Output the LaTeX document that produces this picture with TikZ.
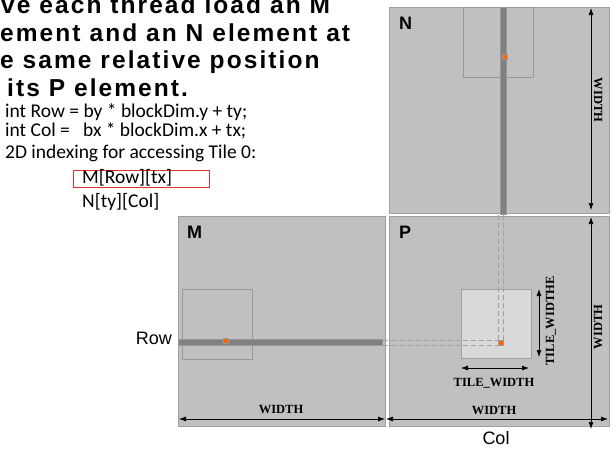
\documentclass[tikz,border=0pt]{standalone}
\usepackage{fontspec}
\setmainfont{Liberation Serif}
\newfontfamily\arialfont{Liberation Sans}
\newfontfamily\titlefont{Liberation Sans}[LetterSpace=8.5]
\newfontfamily\calfont{Carlito}
\usetikzlibrary{arrows.meta}
\definecolor{matfill}{HTML}{C0C0C0}
\definecolor{matline}{HTML}{A0A0A0}
\definecolor{stripfill}{HTML}{808080}
\definecolor{tileline}{HTML}{999999}
\definecolor{tilefill}{HTML}{D9D9D9}
\definecolor{dotorange}{HTML}{FF6600}
\definecolor{boxred}{HTML}{E03030}
\tikzset{
  matbox/.style={draw=matline, fill=matfill, line width=1pt, inner sep=0, anchor=north west},
  stripbox/.style={draw=tileline, fill=stripfill, line width=0.6pt, inner sep=0, anchor=north west},
  tilebox/.style={draw=tileline, line width=1pt, inner sep=0, anchor=north west, minimum width=70pt, minimum height=70pt},
  dotbox/.style={draw=tileline, fill=dotorange, line width=0.6pt, inner sep=0, minimum size=5pt},
  dashline/.style={draw=matline, line width=0.8pt, dash pattern=on 5pt off 3pt},
  dimarrow/.style={draw=black, line width=0.7pt, {Latex[length=7pt,width=5pt]}-{Latex[length=7pt,width=5pt]}},
  dimlabel/.style={font=\bfseries\fontsize{12.5}{14}\selectfont, inner sep=0},
  title/.style={font=\titlefont\bfseries\fontsize{24.5}{28}\selectfont, inner sep=0, anchor=base west},
  code/.style={font=\calfont\fontsize{19.5}{22}\selectfont, inner sep=0, anchor=base west},
  matlabel/.style={font=\arialfont\bfseries\fontsize{18}{20}\selectfont, inner sep=0, anchor=base west},
  axislabel/.style={font=\arialfont\fontsize{18}{20}\selectfont, inner sep=0}
}
\begin{document}
\begin{tikzpicture}[x=1pt,y=-1pt]
\useasboundingbox (0,0) rectangle (616,450);
% title
\node[title] (t1) at (1,13.5) {ve each thread load an M};
\node[title] (t2) at (0,41.5) {ement and an N element at};
\node[title] (t3) at (0,68.5) {e same relative position};
\node[title] (t4) at (7,96) {its P element.};
% code
\node[code] (c1) at (5,117) {int Row = by * blockDim.y + ty;};
\node[code] (c2) at (5,136) {int Col = \ \ bx * blockDim.x + tx;};
\node[code] (c3) at (5,158) {2D indexing for accessing Tile 0:};
\node[draw=boxred, line width=1pt, inner sep=0, minimum width=136pt, minimum height=17pt, anchor=north west] (redbox) at (73,170) {};
\node[code] (c4) at (82,183) {M[Row][tx]};
\node[code] (c5) at (82,207) {N[ty][Col]};
% matrices
\node[matbox, minimum width=220pt, minimum height=206pt] (N) at (389,7) {};
\node[matbox, minimum width=220pt, minimum height=210pt] (P) at (389,216) {};
\node[matbox, minimum width=207pt, minimum height=210pt] (M) at (178,216) {};
% tiles
\node[tilebox] (Ntile) at (463,7) {};
\node[tilebox] (Mtile) at (182,289) {};
\node[tilebox, fill=tilefill, draw=matline, minimum width=70pt, minimum height=69pt] (Ptile) at (461,289) {};
% strips
\node[stripbox, minimum width=6pt, minimum height=207pt] (Nstrip) at (500,7) {};
\node[stripbox, minimum width=204pt, minimum height=6pt] (Mstrip) at (178,339) {};
% dots
\node[dotbox] (Ndot) at (504.5,57) {};
\node[dotbox] (Mdot) at (225.5,341) {};
\node[dotbox] (Pdot) at (501,343) {};
% dashed guides
\draw[dashline] (Mstrip.east |- Pdot.north west) -- (Pdot.north west);
\draw[dashline] (Mstrip.east |- Pdot.south west) -- (Pdot.south west);
\draw[dashline] (Nstrip.south -| Pdot.north west) -- (Pdot.north west);
\draw[dashline] (Nstrip.south -| Pdot.north east) -- (Pdot.north east);
% matrix labels
\node[matlabel] (Nlab) at (399,29) {N};
\node[matlabel] (Plab) at (399,238) {P};
\node[matlabel] (Mlab) at (187,238) {M};
\node[axislabel, anchor=base east] (Rowlab) at (172,344) {Row};
\node[axislabel, anchor=base] (Collab) at (496,444) {Col};
% dimension arrows
\coordinate (mw1) at (179,419); \coordinate (mw2) at (385,419);
\coordinate (pw1) at (386,419); \coordinate (pw2) at (608,419);
\coordinate (pv1) at (591,217); \coordinate (pv2) at (591,429);
\coordinate (nv1) at (591,8);   \coordinate (nv2) at (591,210);
\coordinate (tw1) at (461,368); \coordinate (tw2) at (529,368);
\coordinate (th1) at (539,289); \coordinate (th2) at (539,357);
\draw[dimarrow] (mw1) -- (mw2);
\draw[dimarrow] (pw1) -- (pw2);
\draw[dimarrow] (pv1) -- (pv2);
\draw[dimarrow] (nv1) -- (nv2);
\draw[dimarrow] (tw1) -- (tw2);
\draw[dimarrow] (th1) -- (th2);
\node[dimlabel] (mwl) at (281,409.5) {WIDTH};
\node[dimlabel] (pwl) at (494,410) {WIDTH};
\node[dimlabel, rotate=90] (pvl) at (598,327) {WIDTH};
\node[dimlabel, rotate=-90] (nvl) at (598,100) {WIDTH};
\node[dimlabel] (twl) at (494,383) {TILE\_WIDTH};
\node[dimlabel, rotate=90] (thl) at (551,321) {TILE\_WIDTHE};
\end{tikzpicture}
\end{document}
